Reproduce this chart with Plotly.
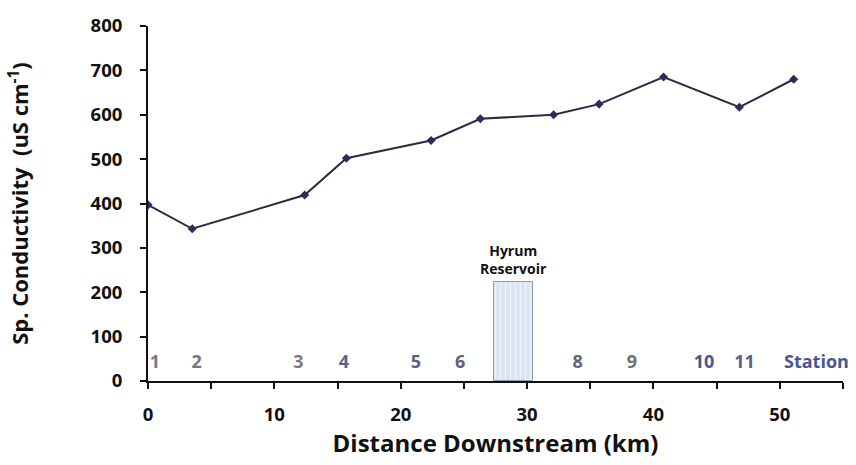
import plotly.graph_objects as go

# Station distances downstream (km) and specific conductivity (uS/cm)
distance_km = [0.0, 3.5, 12.4, 15.7, 22.4, 26.3, 32.1, 35.7, 40.8, 46.8, 51.1]
conductivity = [397, 343, 419, 502, 542, 591, 600, 624, 685, 617, 680]

# Station number labels along the bottom of the plot
station_labels = ["1", "2", "3", "4", "5", "6", "8", "9", "10", "11", "Station"]
station_label_x = [0.55, 3.85, 11.9, 15.5, 21.2, 24.7, 34.0, 38.3, 44.0, 47.2, 52.9]
station_label_colors = ["#7a7a7a", "#767676", "#7a7a7a", "#5b6182", "#5b6182",
                        "#5b6182", "#5e6480", "#707070", "#4b5592", "#5b6182", "#4b5592"]
station_label_y = 40

# Hyrum Reservoir extent (km) and drawn height
reservoir_start = 27.4
reservoir_end = 30.5
reservoir_height = 224

x_ticks = [0, 10, 20, 30, 40, 50]
x_minor_ticks = [5, 15, 25, 35, 45, 55]
y_ticks = [0, 100, 200, 300, 400, 500, 600, 700, 800]

FONT = "Open Sans"
INK = "#111111"

fig = go.Figure()

fig.add_trace(go.Bar(
    x=[(reservoir_start + reservoir_end) / 2],
    y=[reservoir_height],
    width=[reservoir_end - reservoir_start],
    marker=dict(
        color="#dbe5f1",
        line=dict(color="#8a9bb5", width=1),
        pattern=dict(shape="|", fgcolor="#ffffff", size=5, solidity=0.25),
    ),
    showlegend=False,
    hoverinfo="skip",
))

fig.add_trace(go.Scatter(
    x=distance_km,
    y=conductivity,
    mode="lines+markers",
    line=dict(color="#2a2a44", width=2),
    marker=dict(symbol="diamond", size=7, color="#2c2c5a"),
    showlegend=False,
))

fig.add_trace(go.Scatter(
    x=station_label_x,
    y=[station_label_y] * len(station_labels),
    mode="text",
    text=station_labels,
    textfont=dict(family=FONT, size=18, color=station_label_colors, weight="bold"),
    textposition="middle center",
    showlegend=False,
    cliponaxis=False,
    hoverinfo="skip",
))

fig.add_annotation(
    x=(reservoir_start + reservoir_end) / 2,
    y=reservoir_height,
    yshift=2,
    text="Hyrum<br>Reservoir",
    showarrow=False,
    xanchor="center",
    yanchor="bottom",
    font=dict(family=FONT, size=14, color=INK, weight="bold"),
)

fig.update_layout(
    width=856,
    height=465,
    margin=dict(l=148, r=13, t=21, b=84),
    paper_bgcolor="white",
    plot_bgcolor="white",
    bargap=0,
    xaxis=dict(
        range=[0, 55],
        tickvals=x_ticks,
        ticks="outside",
        ticklen=6,
        tickwidth=2,
        tickcolor=INK,
        minor=dict(tickvals=x_minor_ticks, ticks="outside", ticklen=6,
                   tickwidth=2, tickcolor=INK, showgrid=False),
        ticklabelstandoff=10,
        showline=True,
        linecolor=INK,
        linewidth=2,
        showgrid=False,
        zeroline=False,
        tickfont=dict(family=FONT, size=18.5, color=INK, weight="bold"),
        title=dict(text="Distance Downstream (km)",
                   font=dict(family=FONT, size=24, color=INK, weight="bold"),
                   standoff=9),
    ),
    yaxis=dict(
        range=[0, 800],
        tickvals=y_ticks,
        ticks="outside",
        ticklen=6,
        tickwidth=2,
        tickcolor=INK,
        ticklabelstandoff=14,
        showline=True,
        linecolor=INK,
        linewidth=2,
        showgrid=False,
        zeroline=False,
        tickfont=dict(family=FONT, size=18.5, color=INK, weight="bold"),
        title=dict(text="Sp. Conductivity  (uS cm<sup>-1</sup>)",
                   font=dict(family=FONT, size=22, color=INK, weight="bold"),
                   standoff=56),
    ),
)

fig.write_html("out.html")
